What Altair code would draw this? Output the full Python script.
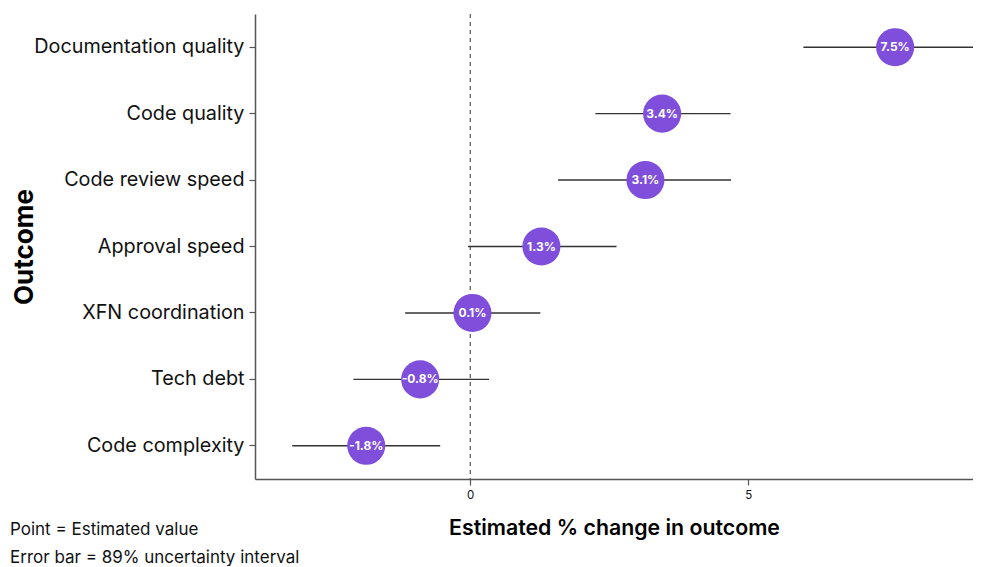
import altair as alt
import pandas as pd

outcomes = ["Documentation quality", "Code quality", "Code review speed",
            "Approval speed", "XFN coordination", "Tech debt", "Code complexity"]
estimate = [7.64, 3.45, 3.15, 1.28, 0.04, -0.90, -1.87]
lower = [5.99, 2.25, 1.58, -0.04, -1.17, -2.10, -3.20]
upper = [9.40, 4.68, 4.69, 2.63, 1.26, 0.34, -0.54]
labels = ["7.5%", "3.4%", "3.1%", "1.3%", "0.1%", "-0.8%", "-1.8%"]
x_ticks = [0, 5]
notes = ["Point = Estimated value", "Error bar = 89% uncertainty interval"]

df = pd.DataFrame({"outcome": outcomes, "est": estimate, "lo": lower,
                   "hi": upper, "label": labels})

FONT = "Inter"
W, H = 718, 465
xscale = alt.Scale(domain=[-3.87, 9.04], nice=False, zero=False)
yscale = alt.Scale(domain=outcomes, type="band", paddingInner=0, paddingOuter=0)
yenc = alt.Y("outcome:N", sort=outcomes, scale=yscale,
             axis=alt.Axis(title="Outcome", titleFontSize=26, titleFontWeight="bold",
                           titleFont=FONT, titleColor="#000", titleX=-231,
                           titleY=H / 2, titleBaseline="middle", titleAngle=270,
                           labelFont=FONT, labelFontSize=19.8, labelColor="#111",
                           tickSize=6, labelPadding=5, domainColor="#555",
                           domainWidth=1.5, tickColor="#555", tickWidth=1.2,
                           grid=False, labelLimit=400))

zero = alt.Chart(pd.DataFrame({"z": [0]})).mark_rule(
    color="#333", strokeDash=[4, 4], strokeWidth=1
).encode(x=alt.X("z:Q", scale=xscale))

bars = alt.Chart(df).mark_rule(color="#333", strokeWidth=1.4, clip=True).encode(
    x=alt.X("lo:Q", scale=xscale,
            axis=alt.Axis(title="Estimated % change in outcome", values=x_ticks,
                          titleFontSize=21.3, titleFontWeight=600, titleFont=FONT,
                          titleColor="#000", labelFont=FONT, labelFontSize=11.5,
                          labelColor="#111", tickSize=6, labelPadding=4,
                          titlePadding=17, domainColor="#555", domainWidth=1.5,
                          tickColor="#555", tickWidth=1.2, grid=False)),
    x2="hi:Q",
    y=yenc,
)

pts = alt.Chart(df).mark_circle(size=1450, opacity=1, color="#7F4FDB").encode(
    x=alt.X("est:Q", scale=xscale), y=alt.Y("outcome:N", sort=outcomes, scale=yscale))

txt = alt.Chart(df).mark_text(color="white", fontSize=12, fontWeight="bold",
                              font=FONT).encode(
    x=alt.X("est:Q", scale=xscale), y=alt.Y("outcome:N", sort=outcomes, scale=yscale),
    text="label:N")

note_layers = []
for i, t in enumerate(notes):
    note_layers.append(
        alt.Chart(pd.DataFrame({"t": [t]})).mark_text(
            align="left", baseline="middle", fontSize=17, font=FONT, color="#111"
        ).encode(x=alt.value(-245), y=alt.value(H + 51 + 28 * i), text="t:N")
    )

chart = alt.layer(zero, bars, pts, txt, *note_layers).properties(
    width=W, height=H,
    padding={"left": 2, "top": 5, "right": 0, "bottom": 0},
).configure_view(stroke=None)

chart.save("out.html", embed_options={"renderer": "svg", "actions": False})
